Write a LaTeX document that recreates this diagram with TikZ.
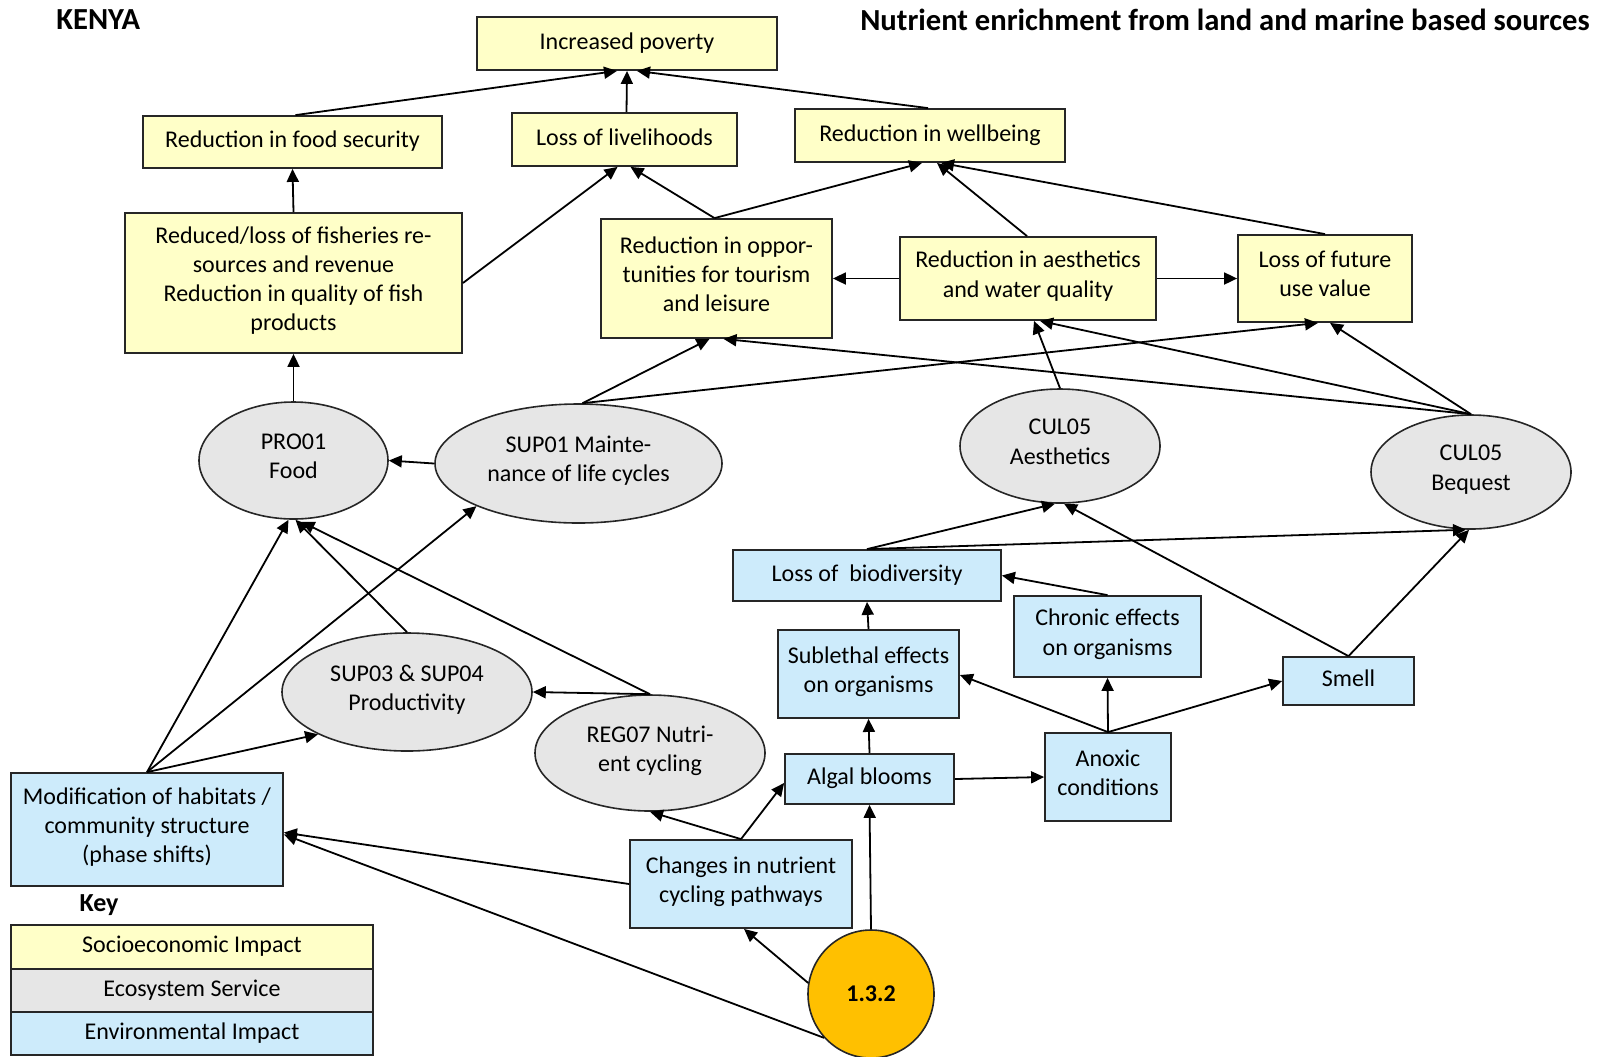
\documentclass[tikz,border=0pt]{standalone}
\usepackage{fontspec}
\setmainfont{Carlito}
\usetikzlibrary{arrows.meta,shapes.geometric,calc}

\definecolor{socio}{HTML}{FFFFC8}
\definecolor{eco}{HTML}{E6E6E6}
\definecolor{env}{HTML}{CDEBFB}
\definecolor{pressure}{HTML}{FFC000}

\begin{document}
\begin{tikzpicture}[x=0.5pt,y=-0.5pt,
  every node/.style={font=\fontsize{12}{14.6}\selectfont, align=center, inner sep=0pt},
  boxtext/.style={execute at begin node=\strut, execute at end node=\strut},
  box/.style={draw=black!85, line width=0.9pt, rectangle, boxtext},
  sebox/.style={box, fill=socio},
  envbox/.style={box, fill=env},
  service/.style={draw=black!85, line width=0.8pt, ellipse, fill=eco, boxtext},
  link/.style={line width=0.9pt, -{Triangle[length=6.5pt,width=6pt]}},
  heading/.style={font=\fontsize{15.3}{18}\selectfont\bfseries}
]
\useasboundingbox (0,0) rectangle (1598,1056);

% titles
\node[heading, anchor=west] (country) at (56,20) {KENYA};
\node[heading, anchor=east] (pressuretitle) at (1590,20) {Nutrient enrichment from land and marine based sources};

% socioeconomic impacts
\node[sebox, minimum width=150pt, minimum height=26.5pt] (pov) at (627,43.5) {Increased poverty};
\node[sebox, minimum width=149.5pt, minimum height=26pt] (food) at (292.5,142) {Reduction in food security};
\node[sebox, minimum width=112.5pt, minimum height=26.5pt] (live) at (624.5,139.5) {Loss of livelihoods};
\node[sebox, minimum width=135pt, minimum height=26.5pt] (well) at (930,135.5) {Reduction in wellbeing};
\node[sebox, minimum width=168.5pt, minimum height=70pt] (fish) at (293.5,283) {Reduced/loss of fisheries re-\\sources and revenue\\Reduction in quality of fish\\products};
\node[sebox, minimum width=115.5pt, minimum height=59.5pt] (tour) at (716.5,278.5) {Reduction in oppor-\\tunities for tourism\\and leisure};
\node[sebox, minimum width=128pt, minimum height=41.5pt] (awq) at (1028,278.5) {Reduction in aesthetics\\and water quality};
\node[sebox, minimum width=87pt, minimum height=43.5pt] (fut) at (1325,278.5) {Loss of future\\use value};

% ecosystem services
\node[service, minimum width=94.5pt, minimum height=58.5pt] (pro) at (293.5,460.5) {PRO01\\Food};
\node[service, minimum width=143.5pt, minimum height=59.5pt] (sup1) at (578.5,463.5) {SUP01 Mainte-\\nance of life cycles};
\node[service, minimum width=125pt, minimum height=59pt] (sup3) at (407,692) {SUP03 \& SUP04\\Productivity};
\node[service, minimum width=115pt, minimum height=58pt] (reg) at (650,753) {REG07 Nutri-\\ent cycling};
\node[service, minimum width=100pt, minimum height=57pt] (cula) at (1060,446) {CUL05\\Aesthetics};
\node[service, minimum width=100pt, minimum height=57pt] (culb) at (1471,472) {CUL05\\Bequest};

% environmental impacts
\node[envbox, minimum width=134pt, minimum height=25.5pt] (bio) at (867,575.5) {Loss of\ \ biodiversity};
\node[envbox, minimum width=90.5pt, minimum height=44pt] (sub) at (868.5,674) {Sublethal effects\\on organisms};
\node[envbox, minimum width=93.5pt, minimum height=40.5pt] (chr) at (1107.5,636.5) {Chronic effects\\on organisms};
\node[envbox, minimum width=65.5pt, minimum height=24pt] (smell) at (1348.5,681) {Smell};
\node[envbox, minimum width=84.5pt, minimum height=25pt] (alg) at (869.5,779) {Algal blooms};
\node[envbox, minimum width=63pt, minimum height=44pt] (anox) at (1108,777) {Anoxic\\conditions};
\node[envbox, minimum width=111pt, minimum height=44pt] (chg) at (741,884) {Changes in nutrient\\cycling pathways};
\node[envbox, minimum width=136pt, minimum height=56.5pt] (mod) at (147,829.5) {Modification of habitats /\\community structure\\(phase shifts)};

% pressure
\node[draw=black!85, line width=0.8pt, ellipse, fill=pressure, minimum width=63pt, minimum height=64pt, font=\fontsize{12}{14.6}\selectfont\bfseries] (src) at (871,994) {1.3.2};

% key
\node[font=\fontsize{13}{15}\selectfont\bfseries] (keyhead) at (99,905) {Key};
\node[sebox, minimum width=181pt, minimum height=22pt] (k1) at (192,947) {Socioeconomic Impact};
\node[box, fill=eco, minimum width=181pt, minimum height=21.5pt] (k2) at (192,990.5) {Ecosystem Service};
\node[envbox, minimum width=181pt, minimum height=21.5pt] (k3) at (192,1033.5) {Environmental Impact};

% connectors: socioeconomic chain
\draw[link] ($(food.north)+(3,0)$) -- ($(pov.south)+(-10,0)$);
\draw[link] ($(live.north)+(2,0)$) -- (pov.south);
\draw[link] ($(well.north)+(-2,0)$) -- ($(pov.south)+(10,0)$);
\draw[link] (fish.north) -- (food.south);
\draw[link] (fish.east) -- ($(live.south)+(-7,0)$);
\draw[link] ($(tour.north)+(-2,0)$) -- ($(live.south)+(6,0)$);
\draw[link] ($(tour.north)+(-2,0)$) -- ($(well.south)+(-8,0)$);
\draw[link] ($(awq.north)+(-1,0)$) -- ($(well.south)+(7,0)$);
\draw[link] (fut.north) -- ($(well.south)+(11,0)$);
\draw[link] (awq.west) -- (tour.east);
\draw[link] (awq.east) -- (fut.west);

% connectors: services to impacts
\draw[link] ($(sup1.north)+(4,0)$) -- ($(tour.south)+(-7,0)$);
\draw[link] ($(sup1.north)+(4,0)$) -- ($(fut.south)+(-7,0)$);
\draw[link] (culb.north) -- ($(tour.south)+(7,0)$);
\draw[link] (culb.north) -- ($(awq.south)+(12,0)$);
\draw[link] (culb.north) -- ($(fut.south)+(5,0)$);
\draw[link] (cula.north) -- ($(awq.south)+(6,0)$);
\draw[link] (pro.north) -- (fish.south);
\draw[link] (sup1.west) -- (pro.east);
\draw[link] (mod.north) -- ($(pro.south)+(-5,0)$);
\draw[link] (sup3.north) -- ($(pro.south)+(2,0)$);
\draw[link] (reg.north) -- ($(pro.south)+(8,2)$);
\draw[link] (mod.north) -- (sup1.south west);
\draw[link] (mod.north) -- (sup3.south west);
\draw[link] (reg.north) -- (sup3.east);

% connectors: environmental chain
\draw[link] (chg.north) -- (reg.south);
\draw[link] (chg.north) -- ($(alg.west)+(0,4)$);
\draw[link] (chg.west) -- ($(mod.east)+(0,3)$);
\draw[link] (src.223) -- ($(mod.east)+(0,5)$);
\draw[link] (src.170) -- ($(chg.south)+(3,0)$);
\draw[link] (src.north) -- (alg.south);
\draw[link] (alg.north) -- (sub.south);
\draw[link] (sub.north) -- (bio.south);
\draw[link] (alg.east) -- (anox.west);
\draw[link] (anox.north) -- ($(sub.east)+(0,1)$);
\draw[link] (anox.north) -- (chr.south);
\draw[link] (anox.north) -- (smell.west);
\draw[link] (chr.north) -- (bio.east);
\draw[link] (bio.north) -- (cula.265);
\draw[link] (smell.north) -- (cula.274);
\draw[link] (bio.north) -- (culb.265);
\draw[link] (smell.north) -- (culb.268);
\end{tikzpicture}
\end{document}
